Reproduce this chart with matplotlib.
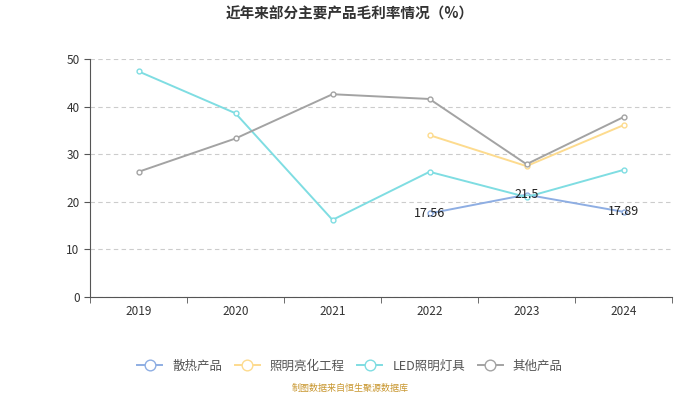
import matplotlib.pyplot as plt
import numpy as np

plt.rcParams['font.family'] = ['Noto Sans CJK SC', 'DejaVu Sans']

years = ['2019', '2020', '2021', '2022', '2023', '2024']
heat = [None, None, None, 17.56, 21.5, 17.89]
lighting_eng = [None, None, None, 34.0, 27.5, 36.1]
led = [47.4, 38.6, 16.2, 26.3, 21.0, 26.7]
other = [26.3, 33.3, 42.6, 41.6, 27.9, 37.8]

series = [
    ('散热产品', heat, '#8eaee3'),
    ('照明亮化工程', lighting_eng, '#fddb8e'),
    ('LED照明灯具', led, '#7fdde2'),
    ('其他产品', other, '#a3a3a3'),
]

fig = plt.figure(figsize=(7, 3.94), dpi=100)
ax = fig.add_axes([90 / 700, 97 / 394, 582 / 700, 238 / 394])

x = np.arange(len(years))
for name, vals, color in series:
    xs = [i for i, v in enumerate(vals) if v is not None]
    ys = [v for v in vals if v is not None]
    ax.plot(xs, ys, color=color, lw=1.4, marker='o', ms=3.5,
            mfc='white', mec=color, mew=1, label=name)

for i, v in enumerate(heat):
    if v is not None:
        ax.text(i, v, f'{v:g}', ha='center', va='center', fontsize=9, color='#222222')

ax.set_xlim(-0.5, 5.5)
ax.set_ylim(0, 50)
ax.set_yticks(range(0, 51, 10))
ax.set_xticks(x)
ax.set_xticklabels(years)
ax.set_xticks(np.arange(-0.5, 6, 1), minor=True)
ax.tick_params(axis='x', which='major', length=0, labelsize=8.5, colors='#333333', pad=6)
ax.tick_params(axis='x', which='minor', length=4, color='#555555')
ax.tick_params(axis='y', length=4, labelsize=8.5, colors='#333333', color='#555555')
ax.grid(axis='y', ls=(0, (4, 3)), color='#cccccc', lw=0.8)
for s in ['top', 'right']:
    ax.spines[s].set_visible(False)
ax.spines['left'].set_color('#555555')
ax.spines['bottom'].set_color('#555555')

fig.text(0.5, 0.965, '近年来部分主要产品毛利率情况（%）', ha='center', va='center',
         fontsize=10.5, fontweight='bold', color='#333333')
fig.legend(loc='center', bbox_to_anchor=(0.5, 1 - 366 / 394), ncol=4, frameon=False,
           fontsize=9, handlelength=2.0, columnspacing=1.0, markerscale=2.2,
           labelcolor='#555555')
fig.text(0.5, 1 - 388 / 394, '制图数据来自恒生聚源数据库', ha='center', va='center',
         fontsize=6.5, color='#c8962e')

fig.savefig('out.png', dpi=100)
